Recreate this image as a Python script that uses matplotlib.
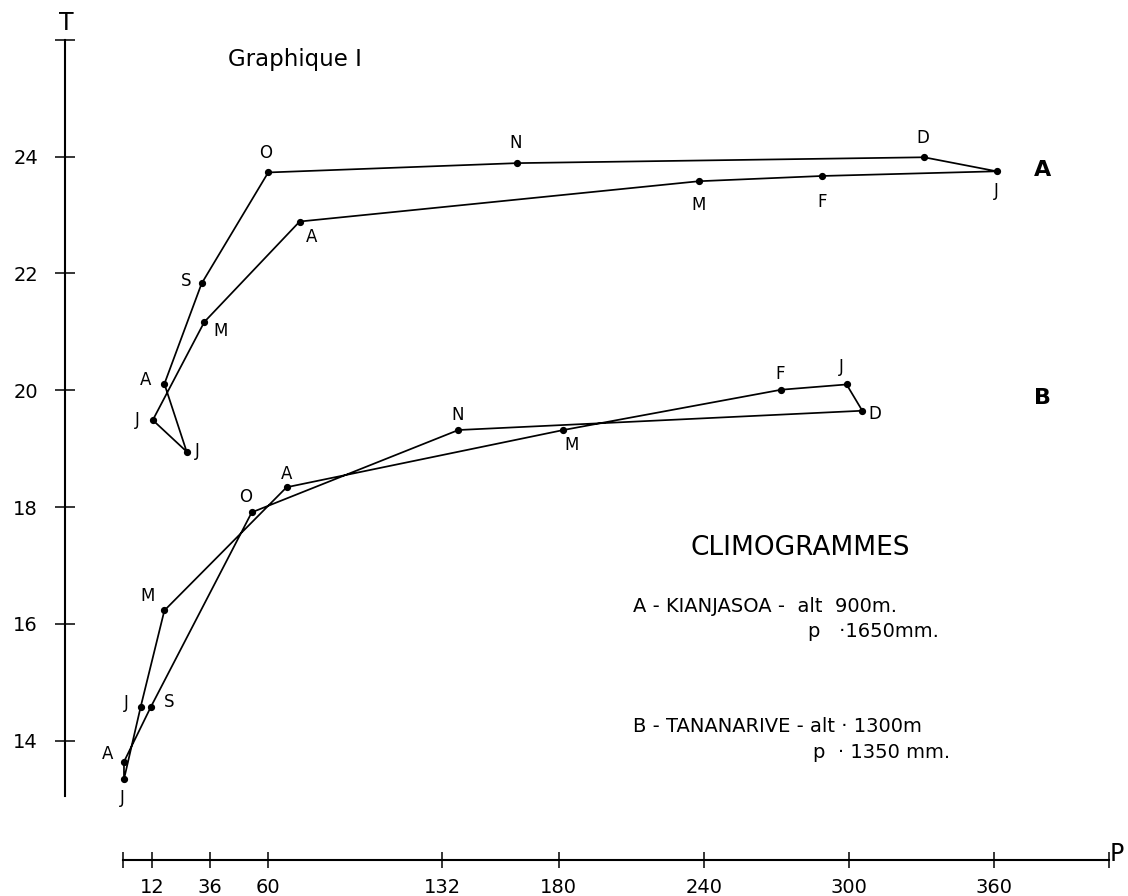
import matplotlib
matplotlib.use("Agg")
import matplotlib.pyplot as plt

# monthly precipitation P (mm) and temperature T (deg C), Jan .. Dec
months = ["J", "F", "M", "A", "M", "J", "J", "A", "S", "O", "N", "D"]

kianjasoa_p = [361, 289, 238, 73, 33.6, 12.3, 26.3, 17.1, 32.5, 60, 163, 331]
kianjasoa_t = [23.75, 23.67, 23.58, 22.89, 21.17, 19.49, 18.95, 20.11, 21.83, 23.73, 23.89, 23.99]

tananarive_p = [299, 272, 182, 67.6, 17.1, 7.3, 0.4, 0.4, 11.4, 53.2, 138.6, 305.5]
tananarive_t = [20.10, 20.01, 19.32, 18.34, 16.23, 14.58, 13.34, 13.64, 14.57, 17.91, 19.32, 19.65]

p_ticks = [12, 36, 60, 132, 180, 240, 300, 360]
t_ticks = [14, 16, 18, 20, 22, 24]

# label offsets around each point, in pixels (dx right, dy down)
off_a = [(0, 20), (0, 26), (0, 24), (12, 15), (16, 9), (-15, 0),
         (11, -1), (-19, -4), (-16, -2), (-3, -19), (-2, -20), (-1, -19)]
off_b = [(-5, -17), (-1, -16), (8, 15), (0, -13), (-17, -14), (-14, -4),
         (-2, 19), (-16, -8), (19, -5), (-6, -15), (-1, -15), (13, 3)]

W, H = 1128, 896


def fxy(x, y):
    return x / W, 1 - y / H


def draw_series(ax, p, t, offsets):
    ax.plot(p + p[:1], t + t[:1], color="black", lw=1.25, zorder=2)
    ax.plot(p, t, "o", color="black", ms=4.2, zorder=3)
    for m, x, y, (dx, dy) in zip(months, p, t, offsets):
        ax.annotate(m, (x, y), xytext=(dx * 0.72, -dy * 0.72), textcoords="offset points",
                    ha="center", va="center", fontsize=12)


def main() -> None:
    plt.rcParams["font.family"] = ["DejaVu Sans"]
    fig = plt.figure(figsize=(W / 100, H / 100), dpi=100)
    ax = fig.add_axes([0, 0, 1, 1])
    ax.set_xlim(-50.83, 415.29)
    ax.set_ylim(11.341, 26.683)

    for side in ("top", "right"):
        ax.spines[side].set_visible(False)
    ax.spines["left"].set_position(("data", -23.97))
    ax.spines["left"].set_bounds(13.05, 26)
    ax.spines["bottom"].set_position(("data", 11.957))
    ax.spines["bottom"].set_bounds(0, 407.4)
    for side in ("left", "bottom"):
        ax.spines[side].set_linewidth(1.5)

    ax.set_yticks(t_ticks + [26], [str(v) for v in t_ticks] + [""])
    ax.set_xticks([0] + p_ticks + [407.4], [""] + [str(v) for v in p_ticks] + [""])
    ax.tick_params(axis="y", direction="inout", length=15, width=1.1, pad=12, labelsize=14)
    ax.tick_params(axis="x", direction="inout", length=11.5, width=1.1, pad=7, labelsize=14)
    ax.patch.set_visible(False)

    draw_series(ax, kianjasoa_p, kianjasoa_t, off_a)
    draw_series(ax, tananarive_p, tananarive_t, off_b)

    fig.text(*fxy(66, 23), "T", ha="center", va="center", fontsize=17)
    fig.text(*fxy(1110, 854), "P", ha="left", va="center", fontsize=17)
    fig.text(*fxy(228, 66), "Graphique I", ha="left", va="baseline", fontsize=16.5)
    fig.text(*fxy(1043, 170), "A", ha="center", va="center", fontsize=16, weight="bold")
    fig.text(*fxy(1043, 398), "B", ha="center", va="center", fontsize=16, weight="bold")

    fig.text(*fxy(691, 548), "CLIMOGRAMMES", ha="left", va="center", fontsize=19)
    fig.text(*fxy(633, 612), "A - KIANJASOA -  alt  900m.", ha="left", va="baseline", fontsize=14)
    fig.text(*fxy(808, 637), "p   \u00b71650mm.", ha="left", va="baseline", fontsize=14)
    fig.text(*fxy(633, 732), "B - TANANARIVE - alt \u00b7 1300m", ha="left", va="baseline", fontsize=14)
    fig.text(*fxy(813, 758), "p  \u00b7 1350 mm.", ha="left", va="baseline", fontsize=14)

    fig.savefig("out.png", dpi=100)
    plt.close(fig)


if __name__ == "__main__":
    main()
